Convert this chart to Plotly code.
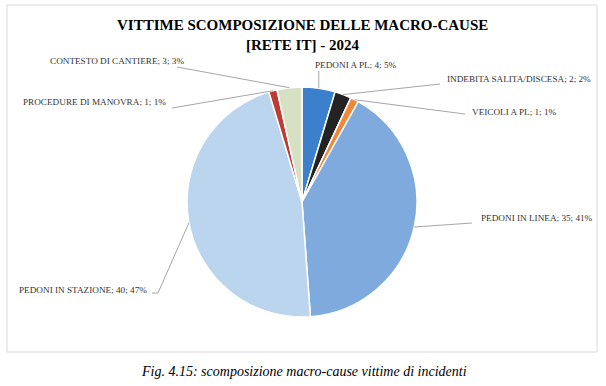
import math
import plotly.graph_objects as go

# ---- data ----
categories = ["PEDONI A PL", "INDEBITA SALITA/DISCESA", "VEICOLI A PL",
              "PEDONI IN LINEA", "PEDONI IN STAZIONE", "PROCEDURE DI MANOVRA",
              "CONTESTO DI CANTIERE"]
values = [4, 2, 1, 35, 40, 1, 3]
percent_labels = ["5%", "2%", "1%", "41%", "47%", "1%", "3%"]
colors = ["#3c7fcc", "#232323", "#f0883a", "#7eaadd", "#bcd5ee", "#bd3b32", "#d5e1c2"]

title_line1 = "VITTIME SCOMPOSIZIONE DELLE MACRO-CAUSE"
title_line2 = "[RETE IT] - 2024"
caption = "Fig. 4.15: scomposizione macro-cause vittime di incidenti"

# ---- layout geometry (pixels) ----
W, H = 606, 386
CX, CY, R = 302, 202, 115


def px(x):
    return x / W


def py(y):
    return 1 - y / H


# label placement: (anchor x, anchor y, xanchor, line start x, line start y, elbow)
label_pos = {
    "PEDONI A PL": (313, 65, "left", None, 71, None),
    "INDEBITA SALITA/DISCESA": (445, 79, "left", 440, 84, None),
    "VEICOLI A PL": (470, 112, "left", 465, 114, None),
    "PEDONI IN LINEA": (479, 218, "left", 472, 223, None),
    "PEDONI IN STAZIONE": (149, 290, "right", 152, 293, 158),
    "PROCEDURE DI MANOVRA": (168, 102, "right", 172, 108, None),
    "CONTESTO DI CANTIERE": (186, 61, "right", 177, 67, None),
}

fig = go.Figure()
fig.add_trace(go.Pie(
    labels=categories,
    values=values,
    sort=False,
    direction="clockwise",
    rotation=0,
    textinfo="none",
    hoverinfo="label+value+percent",
    marker=dict(colors=colors, line=dict(color="white", width=1.5)),
    domain=dict(x=[px(CX - R), px(CX + R)], y=[py(CY + R), py(CY - R)]),
    showlegend=False,
))

shapes = []
annotations = []
total = sum(values)
cum = 0
for cat, v, pct in zip(categories, values, percent_labels):
    mid = (cum + v / 2) / total * 2 * math.pi
    cum += v
    ex = CX + R * math.sin(mid)
    ey = CY - R * math.cos(mid)
    ax, ay, xa, lx, ly, elbow = label_pos[cat]
    if lx is None:
        lx = ex
    annotations.append(dict(
        x=px(ax), y=py(ay), xref="paper", yref="paper",
        text=f"{cat}; {v}; {pct}", showarrow=False,
        xanchor=xa, yanchor="middle",
        font=dict(family="Liberation Serif", size=9.2, color="#333333"),
    ))
    if elbow is not None:
        shapes.append(dict(type="line", xref="paper", yref="paper",
                           x0=px(lx), y0=py(ly), x1=px(elbow), y1=py(ly),
                           line=dict(color="#a6a6a6", width=1)))
        lx = elbow
    shapes.append(dict(type="line", xref="paper", yref="paper",
                       x0=px(lx), y0=py(ly), x1=px(ex), y1=py(ey),
                       line=dict(color="#a6a6a6", width=1)))

# chart border
shapes.append(dict(type="rect", xref="paper", yref="paper",
                   x0=px(7), y0=py(352), x1=px(597), y1=py(5),
                   line=dict(color="#d9d9d9", width=1), fillcolor="rgba(0,0,0,0)",
                   layer="below"))

annotations.append(dict(x=px(302), y=py(25), xref="paper", yref="paper",
                        text=f"<b>{title_line1}</b>", showarrow=False,
                        xanchor="center", yanchor="middle",
                        font=dict(family="Liberation Serif", size=15, color="#000")))
annotations.append(dict(x=px(302), y=py(45), xref="paper", yref="paper",
                        text=f"<b>{title_line2}</b>", showarrow=False,
                        xanchor="center", yanchor="middle",
                        font=dict(family="Liberation Serif", size=15, color="#000")))
annotations.append(dict(x=px(304), y=py(371), xref="paper", yref="paper",
                        text=f"<i>{caption}</i>", showarrow=False,
                        xanchor="center", yanchor="middle",
                        font=dict(family="Liberation Serif", size=14, color="#000")))

fig.update_layout(
    width=W, height=H,
    margin=dict(l=0, r=0, t=0, b=0),
    paper_bgcolor="white",
    plot_bgcolor="white",
    shapes=shapes,
    annotations=annotations,
    showlegend=False,
)

fig.write_html("out.html", config={"displayModeBar": False},
               post_script="document.body.style.margin='0';"
                           "document.body.style.overflow='hidden';")
